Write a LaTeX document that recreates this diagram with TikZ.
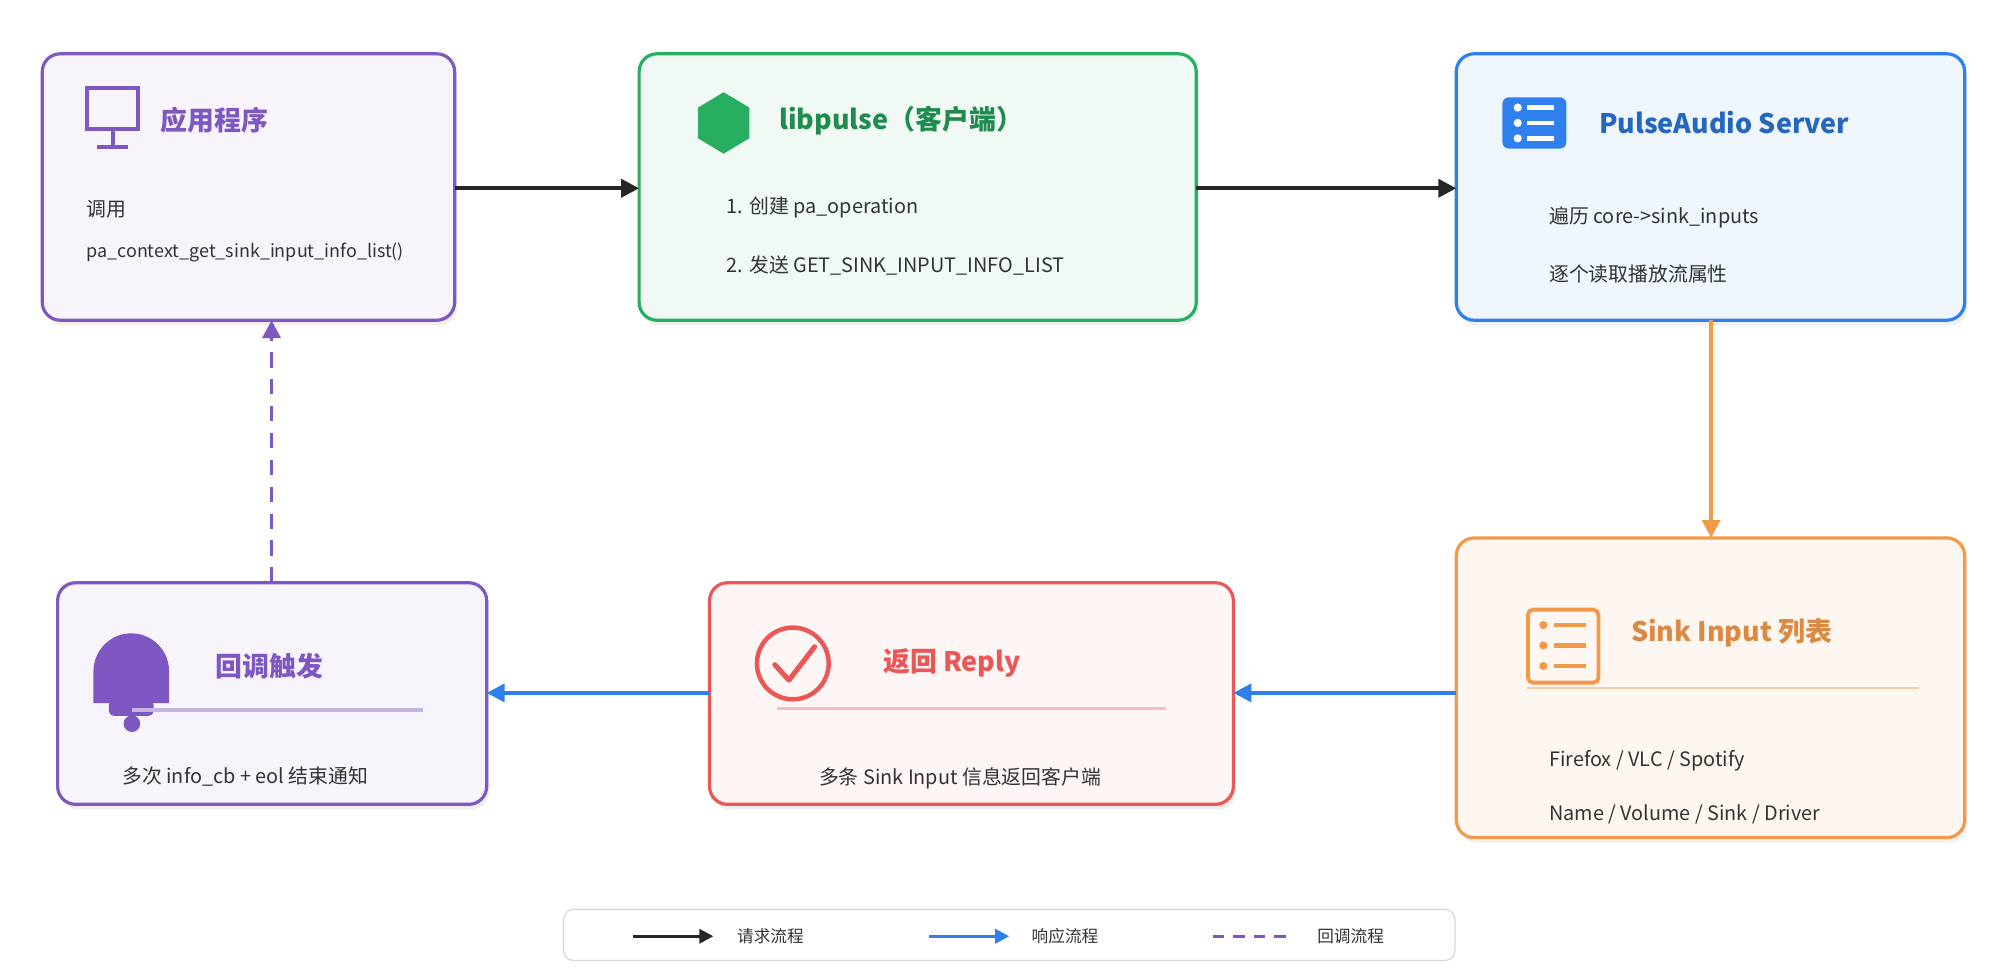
\documentclass[tikz,border=0pt]{standalone}
\usepackage{fontspec}
\setmainfont{Noto Sans CJK SC}
\usetikzlibrary{arrows.meta,shadows}
\definecolor{pur}{HTML}{7E57C2}
\definecolor{grn}{HTML}{27AE60}
\definecolor{blu}{HTML}{2F80ED}
\definecolor{org}{HTML}{F2994A}
\definecolor{red}{HTML}{EB5757}
\definecolor{txt}{HTML}{333333}
\tikzset{
 box/.style={draw=#1,line width=2.5pt,rounded corners=14pt,drop shadow={shadow xshift=2pt,shadow yshift=-4pt,opacity=0.12}},
 ttl/.style={font=\fontsize{21}{25}\selectfont\bfseries,anchor=west},
 bod/.style={font=\fontsize{15.5}{19}\selectfont,text=txt,anchor=west},
 arr/.style={line width=3pt,-{Triangle[length=14pt,width=14pt]}},
}
\begin{document}
\begin{tikzpicture}[x=1pt,y=-1pt]
\useasboundingbox[fill=white] (0,0) rectangle (1560,763);
% boxes
\draw[box=pur,fill=pur!6] (33,42) rectangle (355,250);
\draw[box=grn,fill=grn!7] (499,42) rectangle (934,250);
\draw[box=blu,fill=blu!7] (1137,42) rectangle (1534,250);
\draw[box=org,fill=org!8] (1137,420) rectangle (1534,654);
\draw[box=red,fill=red!6] (554,455) rectangle (963,628);
\draw[box=pur,fill=pur!6] (45,455) rectangle (380,628);
% node anchors
\coordinate (a1r) at (355,147); \coordinate (a2l) at (499,147);
\coordinate (a2r) at (934,147); \coordinate (a3l) at (1137,147);
\coordinate (a3b) at (1336,250); \coordinate (a4t) at (1336,420);
\coordinate (a4l) at (1137,541); \coordinate (a5r) at (963,541);
\coordinate (a5l) at (554,541); \coordinate (a6r) at (380,541);
\coordinate (a6t) at (212,455); \coordinate (a1b) at (212,250);
% box 1
\draw[pur,line width=3pt] (68,69) rectangle (108,101);
\draw[pur,line width=3pt] (88,101)--(88,114) (76,115)--(100,115);
\node[ttl,text=pur] (t1) at (122,94) {应用程序};
\node[bod] (l11) at (64,163) {调用};
\node[bod,font=\fontsize{14}{17}\selectfont] (l12) at (64,197) {pa\_context\_get\_sink\_input\_info\_list()};
% box 2
\fill[grn] (565,72)--(585,84)--(585,108)--(565,120)--(545,108)--(545,84)--cycle;
\node[ttl,text=grn!80!black] (t2) at (605,94) {libpulse（客户端）};
\node[bod] (l21) at (564,162) {1. 创建 pa\_operation};
\node[bod] (l22) at (564,207) {2. 发送 GET\_SINK\_INPUT\_INFO\_LIST};
% box 3
\fill[blu,rounded corners=5pt] (1173,76) rectangle (1223,116);
\foreach \yy in {84,96,108}{\fill[white] (1185,\yy) circle (3.2); \fill[white] (1192,\yy-1.8) rectangle (1213,\yy+1.8);}
\node[ttl,text=blu!80!black] (t3) at (1245,96) {PulseAudio Server};
\node[bod] (l31) at (1206,170) {遍历 core->sink\_inputs};
\node[bod] (l32) at (1206,214) {逐个读取播放流属性};
% box 4
\draw[org,line width=3pt,rounded corners=4pt] (1193,476) rectangle (1248,533);
\foreach \yy in {488,504,520}{\fill[org] (1205,\yy) circle (3.2); \fill[org] (1213,\yy-1.8) rectangle (1238,\yy+1.8);}
\node[ttl,text=org!90!black] (t4) at (1270,494) {Sink Input 列表};
\draw[org!50,line width=2pt] (1192,537)--(1498,537);
\node[bod] (l41) at (1206,594) {Firefox / VLC / Spotify};
\node[bod] (l42) at (1206,636) {Name / Volume / Sink / Driver};
% box 5
\draw[red,line width=3.5pt] (619,518) circle (28);
\draw[red,line width=4pt,line cap=round,line join=round] (605,519)--(616,531)--(636,505);
\node[ttl,text=red] (t5) at (686,518) {返回 Reply};
\draw[red!40,line width=2pt] (607,553)--(910,553);
\node[bod] (l51) at (636,608) {多条 Sink Input 信息返回客户端};
% box 6
\fill[pur] (73,549) -- (73,524) arc (180:360:29.5) -- (132,549) -- cycle;
\fill[pur,rounded corners=4pt] (85,546) rectangle (120,559);
\fill[pur] (103,565) circle (6.5);
\fill[pur!45] (103,553) rectangle (330,556);
\node[ttl,text=pur] (t6) at (165,520) {回调触发};
\node[bod] (l61) at (92,606) {多次 info\_cb + eol 结束通知};
% connectors
\draw[arr,draw=black!85,-{Triangle[length=14pt,width=14pt,fill=black!85]}] (a1r)--(a2l);
\draw[arr,draw=black!85,-{Triangle[length=14pt,width=14pt,fill=black!85]}] (a2r)--(a3l);
\draw[arr,draw=org] (a3b)--(a4t);
\draw[arr,draw=blu] (a4l)--(a5r);
\draw[arr,draw=blu] (a5l)--(a6r);
\draw[arr,draw=pur,dash pattern=on 12pt off 9pt] (a6t)--(a1b);
% legend
\draw[blu!15!gray!30,line width=1pt,fill=white,rounded corners=8pt] (440,710) rectangle (1136,750);
\coordinate (g1a) at (494,731); \coordinate (g1b) at (557,731);
\coordinate (g2a) at (725,731); \coordinate (g2b) at (788,731);
\coordinate (g3a) at (947,731); \coordinate (g3b) at (1010,731);
\draw[line width=2.5pt,black!85,-{Triangle[length=11pt,width=11pt]}] (g1a)--(g1b);
\draw[line width=2.5pt,blu,-{Triangle[length=11pt,width=11pt]}] (g2a)--(g2b);
\draw[line width=2.5pt,pur,dash pattern=on 9pt off 7pt] (g3a)--(g3b);
\node[bod,font=\fontsize{13}{16}\selectfont] (k1) at (572,731) {请求流程};
\node[bod,font=\fontsize{13}{16}\selectfont] (k2) at (802,731) {响应流程};
\node[bod,font=\fontsize{13}{16}\selectfont] (k3) at (1025,731) {回调流程};
\end{tikzpicture}
\end{document}
